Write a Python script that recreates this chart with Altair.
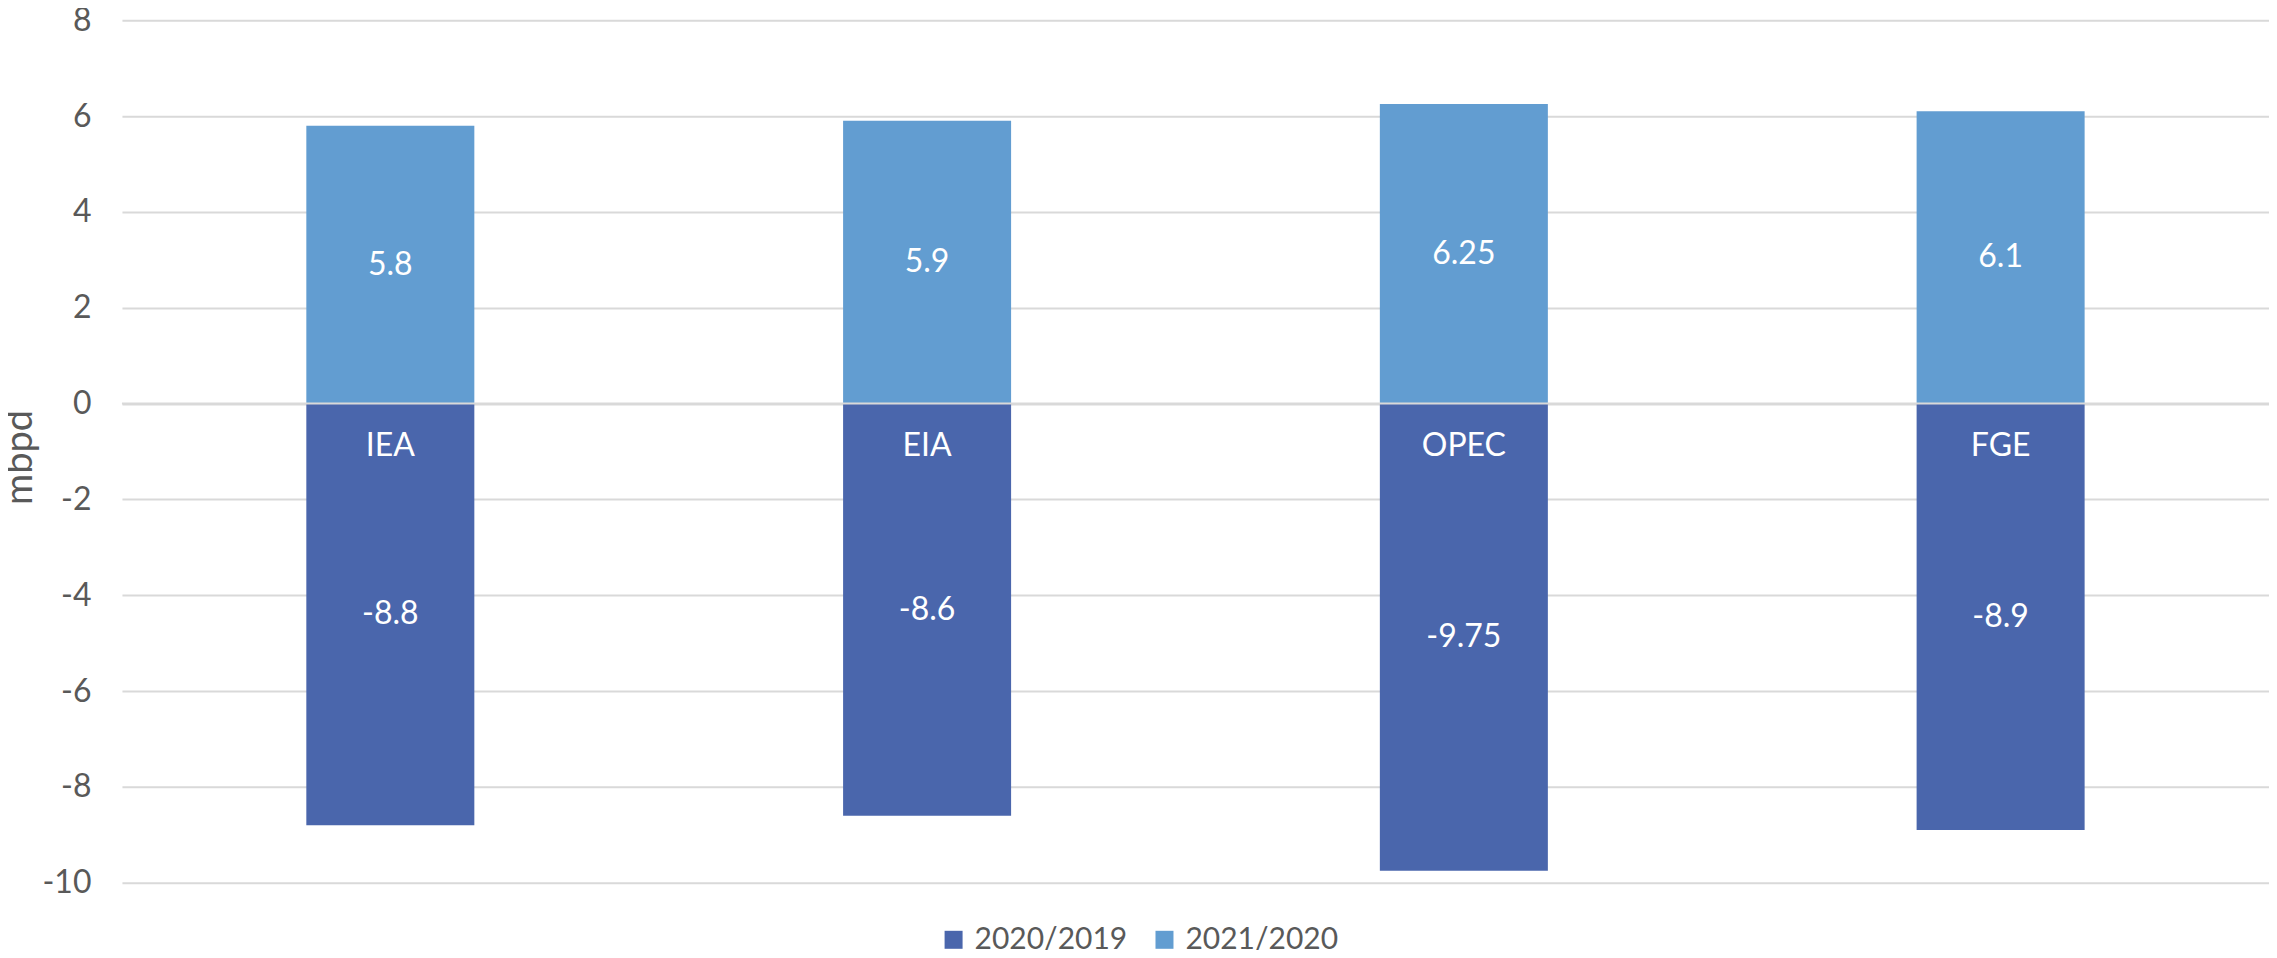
import altair as alt
import pandas as pd

categories = ["IEA", "EIA", "OPEC", "FGE"]
series_names = ["2020/2019", "2021/2020"]
change_2020_2019 = [-8.8, -8.6, -9.75, -8.9]
change_2021_2020 = [5.8, 5.9, 6.25, 6.1]
series_colors = ["#4A66AC", "#629DD1"]
y_ticks = [-10, -8, -6, -4, -2, 0, 2, 4, 6, 8]

rows = []
for cat, a, b in zip(categories, change_2020_2019, change_2021_2020):
    rows.append({"source": cat, "series": series_names[0], "value": a, "label": f"{a:g}"})
    rows.append({"source": cat, "series": series_names[1], "value": b, "label": f"{b:g}"})
df = pd.DataFrame(rows)

FONT = "Lato"
GREY = "#595959"

x_enc = alt.X("source:N", sort=categories, axis=None,
              scale=alt.Scale(paddingInner=0, paddingOuter=0))
y_scale = alt.Scale(domain=[-10, 8], nice=False, zero=True)

base = alt.Chart(df)

bars = base.mark_bar(width=alt.RelativeBandSize(band=0.313)).encode(
    x=x_enc,
    y=alt.Y("value:Q", stack=None, scale=y_scale,
            axis=alt.Axis(values=y_ticks, title="mbpd", grid=True,
                          gridColor="#d9d9d9", gridWidth=2, domain=False,
                          ticks=False, labelFontSize=32, labelColor=GREY,
                          labelFont=FONT, labelPadding=31,
                          labelExpr="'' + datum.value",
                          titleFont=FONT, titleFontSize=38,
                          titleFontWeight="normal", titleColor=GREY,
                          titleX=-90, titleY=437, titleAngle=270,
                          titleBaseline="alphabetic", titleAlign="center")),
    color=alt.Color("series:N", sort=series_names,
                    scale=alt.Scale(domain=series_names, range=series_colors),
                    legend=alt.Legend(title=None, orient="none", direction="horizontal",
                                      legendX=817, legendY=905, symbolType="square",
                                      symbolSize=324, symbolStrokeWidth=0,
                                      labelFontSize=30, labelFont=FONT,
                                      labelColor=GREY, labelOffset=6,
                                      labelLimit=0, columnPadding=22)),
)

zero_rule = alt.Chart(pd.DataFrame({"z": [0]})).mark_rule(
    color="#d9d9d9", strokeWidth=2).encode(y=alt.Y("z:Q", scale=y_scale))

value_text = base.transform_calculate(mid="datum.value / 2").mark_text(
    color="white", fontSize=32, font=FONT, baseline="middle").encode(
    x=x_enc,
    y=alt.Y("mid:Q", scale=y_scale),
    text="label:N",
)

cat_text = base.transform_filter(
    alt.datum.series == series_names[0]).mark_text(
    color="white", fontSize=32, font=FONT, baseline="middle", dy=42).encode(
    x=x_enc,
    y=alt.datum(0),
    text="source:N",
)

chart = alt.layer(bars, zero_rule, value_text, cat_text).properties(
    width=2148, height=863,
    autosize=alt.AutoSizeParams(type="none"),
    padding={"left": 114, "top": 12, "right": 0, "bottom": 67},
).configure(font=FONT).configure_view(stroke=None)

chart.save("out.html", embed_options={"renderer": "svg", "actions": False})
